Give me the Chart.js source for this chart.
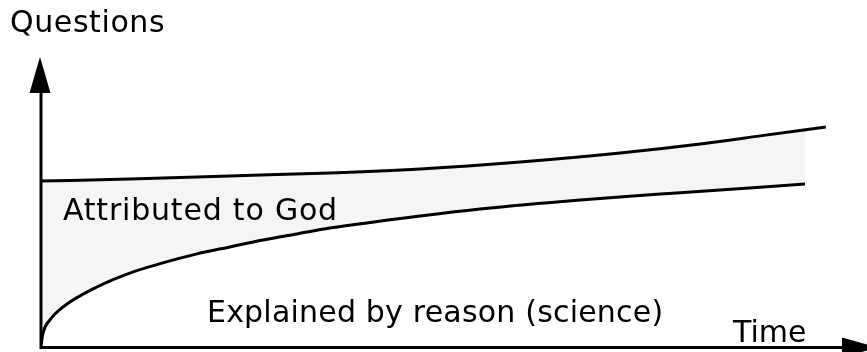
<!DOCTYPE html>
<html>
<head>
<meta charset="utf-8">
<script src="https://cdn.jsdelivr.net/npm/chart.js@4/dist/chart.umd.min.js"></script>
<style>
    html, body { margin: 0; padding: 0; background: #fff; }
    #wrap { width: 867px; height: 352px; position: relative; }
</style>
</head>
<body>
<div id="wrap"><canvas id="schemaChart"></canvas></div>
<script>
// Données (unités arbitraires 0-100)
const tempsHaut = [0, 11.1, 23.6, 36.1, 47.4, 59.9, 72.4, 82.4, 89.9, 98.1];
const questionsTotal = [57.2, 57.9, 59.0, 60.0, 61.4, 63.8, 66.9, 70.0, 72.8, 75.9];

const tempsBas = [0, 0.25, 1.1, 2.75, 7.0, 11.1, 15.25, 19.5, 23.6, 27.75, 32.0, 36.1, 47.4, 54.9, 67.4, 79.9, 95.5];
const questionsExpliquees = [0.5, 4.8, 9.3, 13.8, 20.7, 25.5, 29.0, 32.1, 34.5, 36.9, 39.0, 41.0, 45.2, 47.6, 50.7, 53.2, 56.2];

const axeY = 'Questions';
const axeX = 'Time';
const zoneDieu = 'Attributed to God';
const zoneRaison = 'Explained by reason (science)';

const toPoints = (xs, ys) => xs.map((x, i) => ({ x: x, y: ys[i] }));

// Plugin pour les axes fléchés et les textes
const schemaPlugin = {
    id: 'schema',
    afterDatasetsDraw(chart) {
        const ctx = chart.ctx;
        const x = chart.scales.x;
        const y = chart.scales.y;
        const x0 = x.getPixelForValue(0);
        const y0 = y.getPixelForValue(0) + 0.5;
        const top = chart.chartArea.top;
        const right = chart.chartArea.right + 1;

        ctx.save();
        ctx.strokeStyle = '#000';
        ctx.fillStyle = '#000';
        ctx.lineWidth = 3;
        ctx.beginPath();
        ctx.moveTo(x0, top + 34);
        ctx.lineTo(x0, y0);
        ctx.lineTo(right, y0);
        ctx.stroke();

        // flèche verticale
        ctx.beginPath();
        ctx.moveTo(x0 - 1, top);
        ctx.lineTo(x0 - 11.5, top + 36);
        ctx.lineTo(x0 + 9.5, top + 36);
        ctx.closePath();
        ctx.fill();

        // flèche horizontale
        ctx.beginPath();
        ctx.moveTo(right + 36, y0);
        ctx.lineTo(right, y0 - 10);
        ctx.lineTo(right, y0 + 10);
        ctx.closePath();
        ctx.fill();
        ctx.restore();
    },
    afterDraw(chart) {
        const ctx = chart.ctx;
        ctx.save();
        ctx.fillStyle = '#000';
        ctx.textBaseline = 'alphabetic';
        ctx.textAlign = 'left';
        ctx.font = '30px "DejaVu Sans"';
        ctx.letterSpacing = '0.6px';
        ctx.fillText(axeY, 10, 32);
        ctx.letterSpacing = '0px';
        ctx.fillText(axeX, 733, 342);
        ctx.letterSpacing = '0.2px';
        ctx.fillText(zoneRaison, 207, 322);
        ctx.letterSpacing = '0.8px';
        ctx.fillText(zoneDieu, 63, 220);
        ctx.restore();
    }
};

const ctx = document.getElementById('schemaChart').getContext('2d');
const schemaChart = new Chart(ctx, {
    type: 'line',
    data: {
        datasets: [{
            label: 'Total',
            data: toPoints(tempsHaut, questionsTotal),
            borderColor: '#000',
            borderWidth: 3,
            pointRadius: 0,
            fill: false,
            cubicInterpolationMode: 'monotone'
        }, {
            label: 'Raison',
            data: toPoints(tempsBas, questionsExpliquees),
            borderColor: '#000',
            borderWidth: 3,
            pointRadius: 0,
            backgroundColor: '#f5f5f5',
            fill: 0,
            cubicInterpolationMode: 'monotone'
        }]
    },
    options: {
        responsive: true,
        maintainAspectRatio: false,
        animation: false,
        layout: {
            padding: { left: 41, top: 57, right: 26, bottom: 5 }
        },
        scales: {
            x: { type: 'linear', min: 0, max: 100, display: false },
            y: { min: 0, max: 100, display: false }
        },
        plugins: {
            legend: { display: false },
            tooltip: { enabled: false }
        }
    },
    plugins: [schemaPlugin]
});
</script>
</body>
</html>
